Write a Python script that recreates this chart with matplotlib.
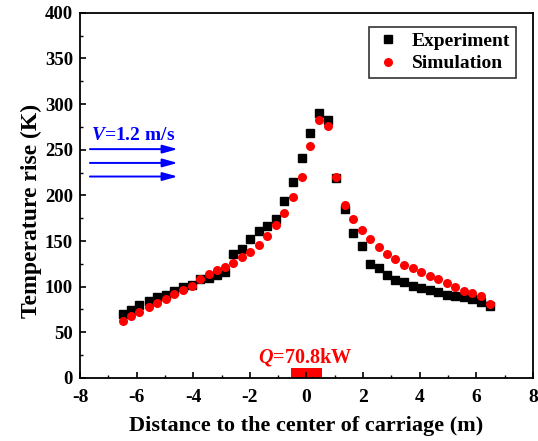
import matplotlib
matplotlib.use("Agg")
import matplotlib.pyplot as plt
from matplotlib.ticker import MultipleLocator

plt.rcParams['font.family'] = ['Liberation Serif', 'DejaVu Serif']
plt.rcParams['font.weight'] = 'bold'
plt.rcParams['axes.unicode_minus'] = False
plt.rcParams['mathtext.fontset'] = 'custom'
plt.rcParams['mathtext.it'] = 'Liberation Serif:italic:bold'
plt.rcParams['mathtext.rm'] = 'Liberation Serif:bold'

distance = [-6.49, -6.19, -5.90, -5.58, -5.29, -4.98, -4.69, -4.37, -4.05, -3.76,
            -3.46, -3.17, -2.87, -2.58, -2.29, -1.98, -1.69, -1.38, -1.07, -0.78,
            -0.48, -0.17, 0.13, 0.43, 0.75, 1.05, 1.35, 1.66, 1.97, 2.25,
            2.56, 2.84, 3.14, 3.45, 3.76, 4.05, 4.35, 4.65, 4.96, 5.25,
            5.56, 5.84, 6.15, 6.47]
experiment = [70, 74.5, 80, 84, 89, 91, 95, 100, 102, 108.5,
              109, 113, 116.5, 136, 141, 152, 160.7, 166, 174, 194,
              215, 240.5, 268, 290, 282, 219.5, 185, 158.5, 144.7, 124.5,
              120, 112.5, 107, 105, 101, 98, 96, 94, 91, 89.5,
              89, 86.5, 83, 79]
simulation = [62.5, 68, 72.7, 77.5, 82.5, 87, 92, 96.4, 101, 108,
              113.6, 118, 122, 126.4, 132, 137.7, 146, 156, 167, 181,
              198.7, 220, 254, 282, 275.5, 220.6, 189.6, 174, 162, 152,
              143.5, 136, 130, 124, 120, 116.5, 112, 108, 103.7, 100,
              95.7, 92.8, 90, 81]

fig = plt.figure(figsize=(5.38, 4.41), dpi=100)
ax = fig.add_axes([0.1487, 0.1429, 0.8420, 0.8283])

ax.plot(distance, experiment, linestyle='none', marker='s', color='black',
        markersize=6, label='Experiment')
ax.plot(distance, simulation, linestyle='none', marker='o', color='red',
        markersize=6.5, markeredgewidth=0, label='Simulation')

ax.set_xlim(-8, 8)
ax.set_ylim(0, 400)
ax.xaxis.set_major_locator(MultipleLocator(2))
ax.xaxis.set_minor_locator(MultipleLocator(1))
ax.yaxis.set_major_locator(MultipleLocator(50))
ax.yaxis.set_minor_locator(MultipleLocator(25))
ax.tick_params(which='both', direction='in', top=False, right=False)
ax.tick_params(axis='x', which='major', labelsize=14, pad=8)
ax.tick_params(axis='y', which='major', labelsize=13.5, pad=5)
ax.tick_params(which='major', length=4.5, width=1.2)
ax.tick_params(which='minor', length=2.5, width=1.0)
for s in ax.spines.values():
    s.set_linewidth(1.3)

ax.set_xlabel('Distance to the center of carriage (m)', fontsize=16, fontweight='bold')
ax.xaxis.set_label_coords(0.5, -0.16, transform=ax.transAxes)
ax.xaxis.label.set_va('bottom')
ax.set_ylabel('Temperature rise (K)', fontsize=17, fontweight='bold')
ax.yaxis.set_label_coords(-0.083, 0.457)

leg = ax.legend(loc='upper right', bbox_to_anchor=(0.9625, 0.962), fontsize=14,
                frameon=True, fancybox=False, edgecolor='black', handletextpad=0.5,
                handlelength=1.4, borderpad=0.3, labelspacing=0.25, borderaxespad=0)
leg.get_frame().set_linewidth(1.2)

# airflow arrows
for yv in [250.6, 235.5, 220.6]:
    ax.annotate('', xy=(-4.55, yv), xytext=(-7.65, yv),
                arrowprops=dict(arrowstyle='-|>,head_length=0.9,head_width=0.25',
                                color='blue', lw=1.4,
                                mutation_scale=10, shrinkA=0, shrinkB=0))
ax.text(-7.62, 261, r'$V$=1.2 m/s', color='blue', fontsize=14, fontweight='bold',
        ha='left', va='baseline')

# fire source
ax.bar(0, 10.6, width=1.09, color='red', edgecolor='none', align='center')
ax.text(-0.04, 16.5, r'$Q$=70.8kW', color='red', fontsize=14.5, fontweight='bold',
        ha='center', va='baseline')

fig.savefig('out.png', dpi=100)
